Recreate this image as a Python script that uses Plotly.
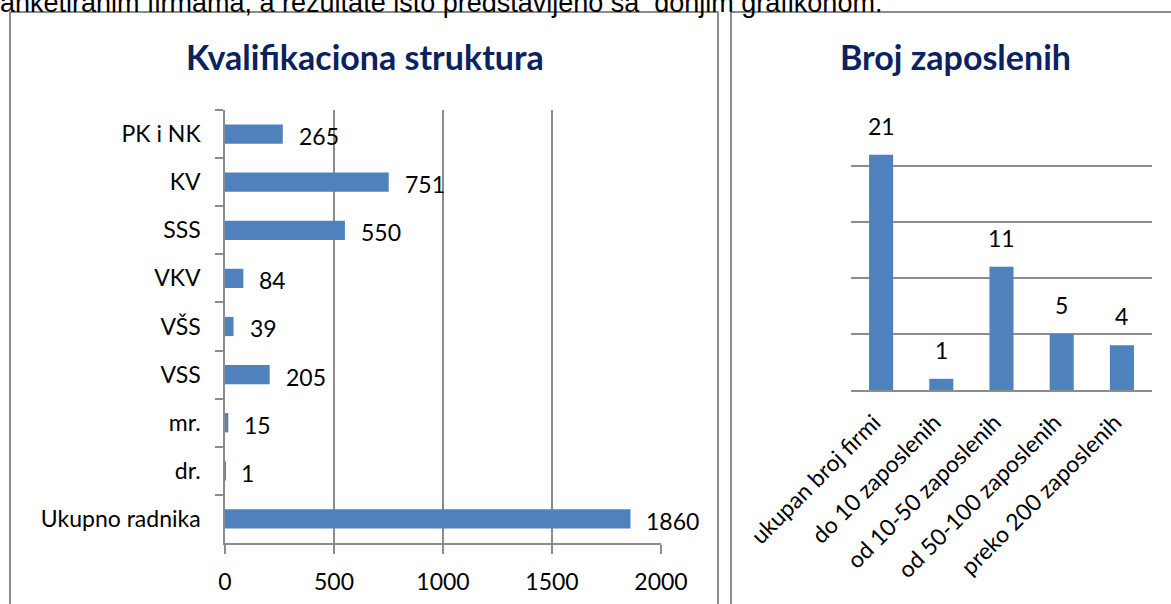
import plotly.graph_objects as go

# ---- data ----
qual_categories = ["PK i NK", "KV", "SSS", "VKV", "VŠS", "VSS", "mr.", "dr.", "Ukupno radnika"]
qual_values = [265, 751, 550, 84, 39, 205, 15, 1, 1860]
qual_ticks = [0, 500, 1000, 1500, 2000]

emp_categories = ["ukupan broj firmi", "do 10 zaposlenih", "od 10-50 zaposlenih",
                  "od 50-100 zaposlenih", "preko 200 zaposlenih"]
emp_values = [21, 1, 11, 5, 4]

header_text = "anketiranim firmama, a rezultate isto predstavljeno sa  donjim grafikonom."
title_left = "Kvalifikaciona struktura"
title_right = "Broj zaposlenih"

# ---- layout helpers ----
W, H = 1171, 604
def fx(px):
    return px / W
def fy(py):
    return 1 - py / H

BAR = "#4F81BD"
GRID = "#8C8C8C"
TITLE_C = "#0B2260"
FONT = "Lato, 'Open Sans', sans-serif"
FS = 23

fig = go.Figure()

fig.add_trace(go.Bar(
    x=qual_values, y=qual_categories, orientation="h",
    marker=dict(color=BAR, line=dict(width=0)),
    width=0.4, xaxis="x", yaxis="y", hoverinfo="x+y",
))
fig.add_trace(go.Bar(
    x=emp_categories, y=emp_values,
    marker=dict(color=BAR, line=dict(width=0)),
    width=0.4, xaxis="x2", yaxis="y2", hoverinfo="x+y",
))

annotations = []
for c, v in zip(qual_categories, qual_values):
    annotations.append(dict(
        x=v, y=c, xref="x", yref="y", text=str(v), showarrow=False,
        xanchor="left", yanchor="middle", xshift=14, yshift=-2,
        font=dict(family=FONT, size=FS, color="black"),
    ))
for c, v in zip(emp_categories, emp_values):
    annotations.append(dict(
        x=c, y=v, xref="x2", yref="y2", text=str(v), showarrow=False,
        xanchor="center", yanchor="bottom", yshift=13,
        font=dict(family=FONT, size=FS, color="black"),
    ))

annotations += [
    dict(x=fx(365), y=fy(56), xref="paper", yref="paper", text="<b>%s</b>" % title_left,
         showarrow=False, xanchor="center", yanchor="middle",
         font=dict(family=FONT, size=34, color=TITLE_C)),
    dict(x=fx(955), y=fy(56), xref="paper", yref="paper", text="<b>%s</b>" % title_right,
         showarrow=False, xanchor="center", yanchor="middle",
         font=dict(family=FONT, size=34, color=TITLE_C)),
    dict(x=fx(-2), y=fy(20), xref="paper", yref="paper", text=header_text,
         showarrow=False, xanchor="left", yanchor="bottom",
         font=dict(family="'Liberation Sans', Arial, sans-serif", size=27, color="black")),
]

shapes = [
    dict(type="rect", xref="paper", yref="paper", x0=fx(10), x1=fx(718), y0=fy(615), y1=fy(12),
         line=dict(color=GRID, width=2), fillcolor="rgba(0,0,0,0)", layer="below"),
    dict(type="rect", xref="paper", yref="paper", x0=fx(731), x1=fx(1180), y0=fy(615), y1=fy(12),
         line=dict(color=GRID, width=2), fillcolor="rgba(0,0,0,0)", layer="below"),
]

fig.update_layout(
    width=W, height=H, autosize=False,
    margin=dict(l=0, r=0, t=0, b=0),
    paper_bgcolor="white", plot_bgcolor="white",
    showlegend=False,
    font=dict(family=FONT, size=FS, color="black"),
    annotations=annotations, shapes=shapes,
    xaxis=dict(
        domain=[fx(225), fx(661)], range=[0, 2000], tickvals=qual_ticks,
        showgrid=True, gridcolor=GRID, gridwidth=1.5,
        showline=True, linecolor=GRID, linewidth=1.5,
        ticks="outside", ticklen=9, tickcolor=GRID, tickwidth=1.5,
        zeroline=False, automargin=False, ticklabelstandoff=9,
        tickfont=dict(family=FONT, size=FS, color="black"), anchor="y", fixedrange=True,
    ),
    yaxis=dict(
        domain=[fy(543), fy(110)], type="category", autorange="reversed",
        showgrid=False, showline=True, linecolor=GRID, linewidth=1.5,
        ticks="outside", ticklen=8, tickcolor=GRID, tickwidth=1.5, tickson="boundaries",
        zeroline=False, automargin=False, ticklabelstandoff=18,
        tickfont=dict(family=FONT, size=FS, color="black"), anchor="x", fixedrange=True,
    ),
    xaxis2=dict(
        domain=[fx(851), fx(1152)], type="category",
        showgrid=False, showline=True, linecolor=GRID, linewidth=2,
        ticks="", tickangle=-45, automargin=False, ticklabelstandoff=8, ticklabelshift=-7,
        tickfont=dict(family=FONT, size=FS, color="black"), anchor="y2", fixedrange=True,
    ),
    yaxis2=dict(
        domain=[fy(390), fy(110)], range=[0, 25], dtick=5,
        showgrid=True, gridcolor=GRID, gridwidth=2,
        showline=False, showticklabels=False, ticks="", zeroline=False,
        automargin=False, anchor="x2", fixedrange=True,
    ),
)

fig.write_html("out.html", config={"displayModeBar": False},
               post_script="document.body.style.margin='0';document.body.style.overflow='hidden';")
